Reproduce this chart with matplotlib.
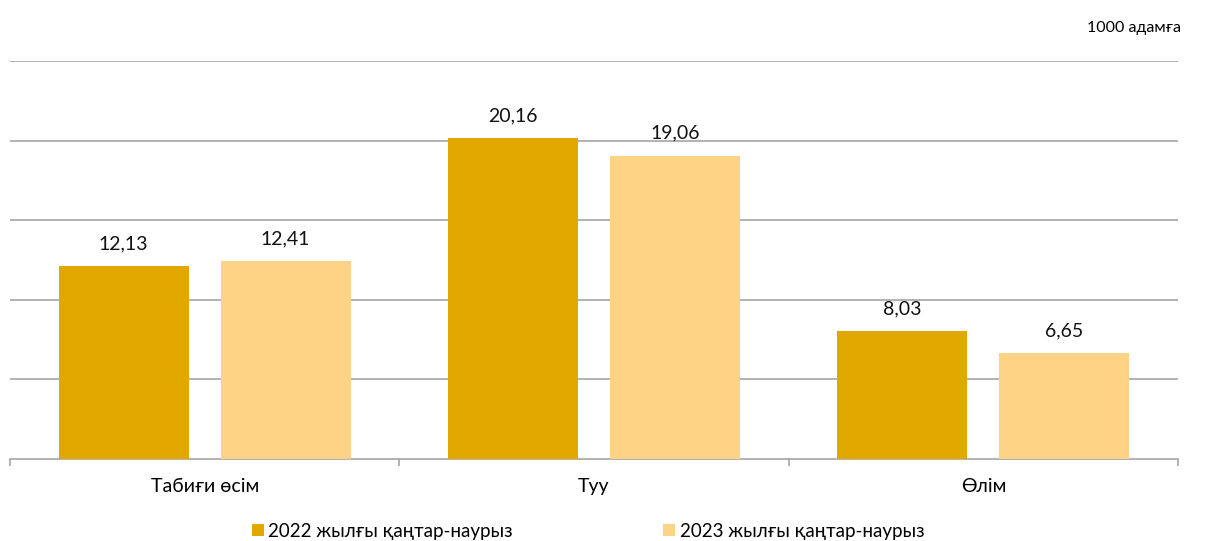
import matplotlib
matplotlib.use("Agg")
import matplotlib.pyplot as plt
from matplotlib.patches import Patch

plt.rcParams['font.family'] = ['Lato', 'Open Sans', 'DejaVu Sans']

categories = ["Табиғи өсім", "Туу", "Өлім"]
series_names = ["2022 жылғы қаңтар-наурыз", "2023 жылғы қаңтар-наурыз"]
values_2022 = [12.13, 20.16, 8.03]
values_2023 = [12.41, 19.06, 6.65]
colors = ["#E1A900", "#FED385"]
unit_label = "1000 адамға"

fig = plt.figure(figsize=(12.08, 5.41), dpi=100)
ax = fig.add_axes([10/1208, 1-459/541, 1168/1208, 398/541])

x = list(range(len(categories)))
w = 0.334
off = 0.208
for vals, sign, col in [(values_2022, -1, colors[0]), (values_2023, 1, colors[1])]:
    xs = [i + sign*off for i in x]
    bars = ax.bar(xs, vals, width=w, color=col, zorder=3)
    for b, v in zip(bars, vals):
        ax.annotate(f"{v:.2f}".replace(".", ","), (b.get_x()+b.get_width()/2, v),
                    xytext=(0, 10), textcoords="offset points",
                    ha="center", va="bottom", fontsize=14, color="#111111")

ax.set_xlim(-0.5, 2.5)
ax.set_ylim(0, 25)
ax.set_yticks([5, 10, 15, 20, 25])
ax.yaxis.grid(True, color="#A6A6A6", linewidth=1.2, zorder=0)
ax.tick_params(axis="y", left=False, labelleft=False)
for s in ["left", "right", "top"]:
    ax.spines[s].set_visible(False)
ax.spines["bottom"].set_color("#A6A6A6")
ax.spines["bottom"].set_linewidth(1.2)
ax.set_xticks(x)
ax.set_xticklabels(categories, fontsize=14)
ax.tick_params(axis="x", length=0, pad=14)
ax.set_xticks([-0.5, 0.5, 1.5, 2.5], minor=True)
ax.tick_params(axis="x", which="minor", length=5, width=1.2, color="#A6A6A6")

fig.text(1181/1208, 1-28/541, unit_label, ha="right", va="center", fontsize=11.5)

handles = [Patch(facecolor=c, edgecolor='none') for c in colors]
fig.legend(handles, series_names, loc="center", bbox_to_anchor=(588/1208, 1-531/541),
           ncol=2, frameon=False, fontsize=13.5, handlelength=0.65, handleheight=0.65,
           handletextpad=0.25, columnspacing=8.0, borderpad=0)

fig.savefig("out.png", dpi=100)
